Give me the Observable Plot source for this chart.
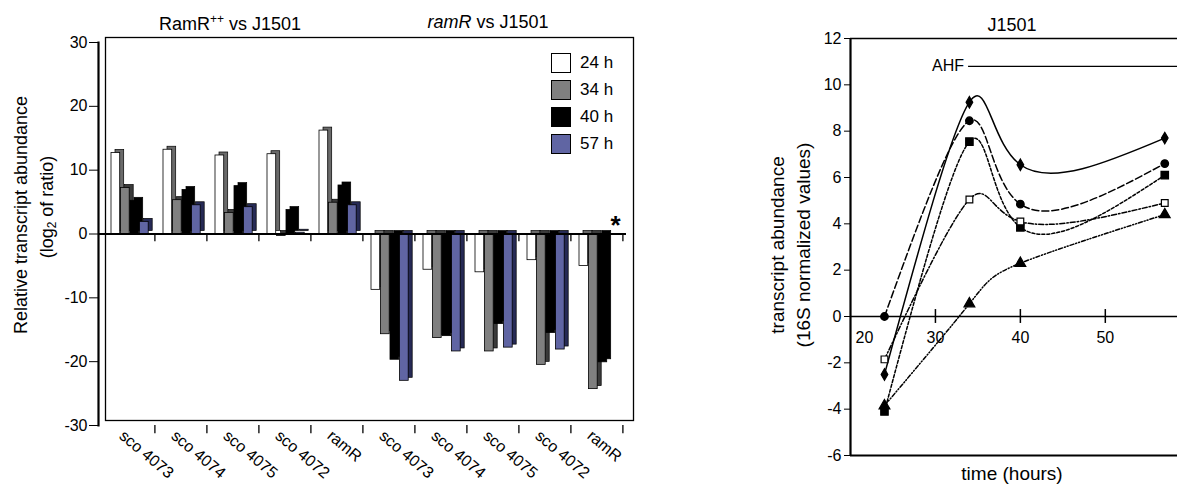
<!DOCTYPE html>
<html><head><meta charset="utf-8">
<script src="https://cdn.jsdelivr.net/npm/d3@7"></script>
<script src="https://cdn.jsdelivr.net/npm/@observablehq/plot@0.6"></script>
<style>
body{margin:0;background:#fff;font-family:"Liberation Sans",Arial,sans-serif;}
#wrap{position:relative;width:1187px;height:491px;overflow:hidden;background:#fff;}
.abs{position:absolute;white-space:nowrap;color:#000;line-height:1;}
.rot{transform:translate(-50%,-50%) rotate(-90deg);}
.ctr{transform:translateX(-50%);}
.sw{position:absolute;width:20px;height:20px;border:1.5px solid #000;box-sizing:border-box;}
svg{overflow:visible;}
</style></head><body><div id="wrap"></div>
<script>
// ---------- left panel data ----------
const panels = ["RamR++", "ramR"];
const genes = ["sco 4073", "sco 4074", "sco 4075", "sco 4072", "ramR"];
const timepoints = ["24 h", "34 h", "40 h", "57 h"];
const v24h = [12.7, 13.2, 12.3, 12.5, 16.2, -8.75, -5.6, -6.0, -4.1, -5.0];
const v34h = [7.2, 5.3, 3.3, -0.3, 4.9, -15.7, -16.3, -18.4, -20.5, -24.3];
const v40h = [5.2, 6.9, 7.5, 3.75, 7.6, -19.7, -16.0, -14.1, -15.5, -20.1];
const v57h = [1.9, 4.5, 4.2, 0.2, 4.5, -23.0, -18.4, -17.8, -18.1, 0];
const yTicksLeft = [-30, -20, -10, 0, 10, 20, 30];
const asteriskAt = {panel: "ramR", gene: "ramR", time: "57 h", value: 0};

// ---------- right panel data ----------
const hours = [24, 34, 40, 57];
const sA = [-2.5, 9.25, 6.55, 7.7];
const sB = [0, 8.45, 4.85, 6.6];
const sC = [-4.1, 7.55, 3.85, 6.1];
const sD = [-1.85, 5.05, 4.1, 4.9];
const sE = [-3.85, 0.55, 2.3, 4.4];
const xTicksRight = [20, 30, 40, 50];
const yTicksRight = [-6, -4, -2, 0, 2, 4, 6, 8, 10, 12];
const ahf = {label: "AHF", textX: 29.6, x1: 33.9, x2: 58.5, y: 10.8};

const FONT = '"Liberation Sans", Arial, sans-serif';
const wrap = document.getElementById("wrap");

// build left table
const keys = [];
panels.forEach(p => genes.forEach(g => keys.push(p + "|" + g)));
const seriesVals = [v24h, v34h, v40h, v57h];
const rows = [];
seriesVals.forEach((arr, s) => arr.forEach((v, i) => rows.push({key: keys[i], time: timepoints[s], s, value: v})));

const fills = ["#ffffff", "#808080", "#000000", "#6065a3"];
const shades = ["#6a6a6a", "#3a3a3a", "#000000", "#262a55"];
const bw = (626 - 98) / keys.length; // band width in px
const a0 = 9, w = 9.5;

const barMarks = [];
for (let s = 0; s < 4; s++) {
  const data = rows.filter(r => r.s === s);
  const insetLeft = a0 + s * w, insetRight = bw - a0 - (s + 1) * w;
  barMarks.push(Plot.barY(data, {x: "key", y: "value", fill: shades[s], stroke: "#000", strokeWidth: 0.7, insetLeft, insetRight, dx: 4, dy: -3}));
  barMarks.push(Plot.barY(data, {x: "key", y: "value", fill: fills[s], stroke: "#000", strokeWidth: 0.8, insetLeft, insetRight}));
}

const left = Plot.plot({
  width: 650, height: 491,
  marginLeft: 98, marginRight: 24, marginTop: 42, marginBottom: 66,
  style: {fontFamily: FONT, fontSize: "16px", color: "#000", background: "transparent"},
  x: {type: "band", domain: keys, padding: 0},
  y: {domain: [-30, 30]},
  marks: [
    Plot.frame({dx: 7, dy: -5, stroke: "#000", strokeWidth: 1.3}),
    ...barMarks,
    Plot.ruleY([0], {stroke: "#000", strokeWidth: 2}),
    Plot.ruleX(keys, {x: d => d, y1: 0, y2: -1.2, dx: bw / 2, stroke: "#000", strokeWidth: 1.3}),
    Plot.ruleX(keys, {x: d => d, y1: -30, y2: -31.3, dx: bw / 2, stroke: "#000", strokeWidth: 1.3}),
    Plot.frame({anchor: "left", stroke: "#000", strokeWidth: 2.2}),
    Plot.axisY({ticks: yTicksLeft, tickSize: 9, tickPadding: 2, fontSize: 16, label: null, tickFormat: d => String(d)}),
    Plot.axisX({tickSize: 0, tickRotate: 40, tickPadding: 8, dx: -7, fontSize: 16, label: null, tickFormat: k => k.split("|")[1]}),
    Plot.text([asteriskAt], {x: d => d.panel + "|" + d.gene, y: "value", text: () => "*", fontSize: 26, fontWeight: "bold", dx: 19, dy: -8})
  ]
});
left.style.position = "absolute"; left.style.left = "0px"; left.style.top = "0px";
wrap.appendChild(left);

// right table
const names = ["series 1", "series 2", "series 3", "series 4", "series 5"];
const allS = [sA, sB, sC, sD, sE];
const dashes = [null, "7,3", "3,2", "5,2,1.5,2", "4,2,1,2,1,2"];
const symbols = ["diamond", "circle", "square", "square", "triangle"];
const dotFill = ["#000", "#000", "#000", "#fff", "#000"];
const dotR = [3.5, 3.8, 4.2, 3.8, 4];
const lineMarks = [], dotMarks = [];
allS.forEach((arr, k) => {
  const d = arr.map((v, i) => ({name: names[k], t: hours[i], v}));
  lineMarks.push(Plot.line(d, {x: "t", y: "v", curve: "natural", stroke: "#000", strokeWidth: 1.5, strokeDasharray: dashes[k]}));
  dotMarks.push(Plot.dot(d, {x: "t", y: "v", symbol: () => symbols[k], r: dotR[k], fill: dotFill[k], stroke: "#000", strokeWidth: 1.2}));
});

const right = Plot.plot({
  width: 487, height: 491,
  marginLeft: 150, marginRight: 10, marginTop: 38, marginBottom: 36,
  style: {fontFamily: FONT, fontSize: "16px", color: "#000", background: "transparent"},
  x: {domain: [20, 58.5], axis: null},
  y: {domain: [-6, 12]},
  symbol: {type: "identity"},
  marks: [
    Plot.ruleY([12], {stroke: "#000", strokeWidth: 1.5}),
    Plot.ruleY([-6], {stroke: "#000", strokeWidth: 2}),
    Plot.ruleY([0], {stroke: "#000", strokeWidth: 1.5}),
    Plot.ruleX([20], {stroke: "#000", strokeWidth: 2.2}),
    Plot.ruleX(xTicksRight.filter(t => t > 20), {x: d => d, y1: -0.3, y2: 0.3, stroke: "#000", strokeWidth: 1.5}),
    Plot.text(xTicksRight.filter(t => t > 20), {x: d => d, y: 0, dy: 21, text: d => String(d), fontSize: 16}),
    Plot.text(xTicksRight.filter(t => t === 20), {x: d => d, y: 0, dy: 21, dx: 5, text: d => String(d), fontSize: 16, textAnchor: "start"}),
    Plot.axisY({ticks: yTicksRight, tickSize: 6, tickPadding: 3, fontSize: 16, label: null, tickFormat: d => String(d)}),
    Plot.ruleY([ahf], {x1: "x1", x2: "x2", y: "y", stroke: "#000", strokeWidth: 1.3}),
    Plot.text([ahf], {x: "textX", y: "y", text: "label", textAnchor: "start", fontSize: 16}),
    ...lineMarks,
    ...dotMarks
  ]
});
right.style.position = "absolute"; right.style.left = "700px"; right.style.top = "0px";
wrap.appendChild(right);

// ---------- HTML text ----------
function addText(html, x, y, size, cls, extra) {
  const d = document.createElement("div");
  d.className = "abs " + (cls || "");
  d.innerHTML = html;
  d.style.left = x + "px"; d.style.top = y + "px"; d.style.fontSize = size + "px";
  if (extra) Object.assign(d.style, extra);
  wrap.appendChild(d);
  return d;
}
addText("RamR<sup style='font-size:12px;vertical-align:7px'>++</sup> vs J1501", 230, 13, 18, "ctr");
addText("<i>ramR</i> vs J1501", 488, 13, 18, "ctr");
addText("Relative transcript abundance", 21, 215, 18, "rot");
addText("(log<sub style='font-size:12px;vertical-align:-3px'>2</sub> of ratio)", 48, 207, 18, "rot");

// legend
timepoints.forEach((t, i) => {
  const y = 53 + i * 27;
  const sw = document.createElement("div");
  sw.className = "sw"; sw.style.left = "551px"; sw.style.top = y + "px"; sw.style.background = fills[i];
  wrap.appendChild(sw);
  addText(t, 580, y + 1, 17, "");
});

addText("J1501", 1012, 16, 18, "ctr");
addText("transcript abundance", 777, 245, 19, "rot");
addText("(16S normalized values)", 803, 245, 19, "rot");
addText("time (hours)", 1012, 464, 19, "ctr");
</script></body></html>
